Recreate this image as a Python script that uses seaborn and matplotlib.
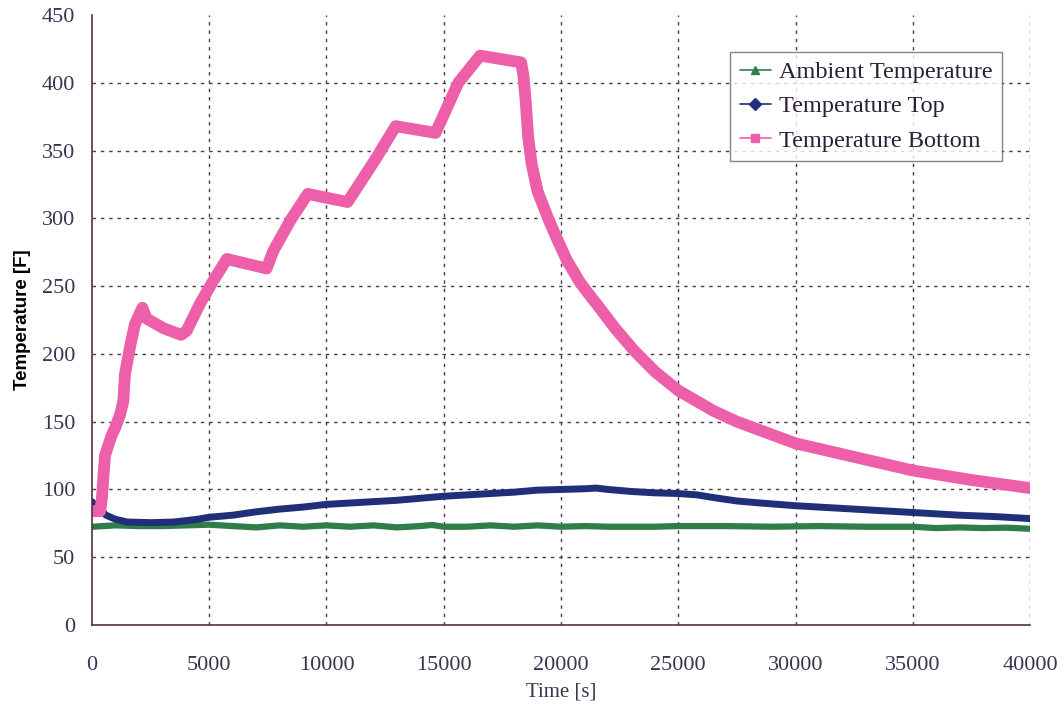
import pandas as pd
import seaborn as sns
import matplotlib.pyplot as plt
from matplotlib.lines import Line2D

# Valores (tempo em s, temperatura em F)
t_amb = [0, 1000, 2000, 3000, 4000, 5000, 6000, 7000, 8000, 9000, 10000, 11000,
         12000, 13000, 14000, 14500, 15000, 16000, 17000, 18000, 19000, 20000,
         21000, 22000, 23000, 24000, 25000, 27000, 29000, 31000, 33000, 35000,
         36000, 37000, 38000, 39000, 40000]
temp_amb = [72.5, 73.5, 73, 73, 73.5, 74, 73, 72, 73.5, 72.5, 73.5, 72.5,
            73.5, 72, 73, 73.8, 72.5, 72.5, 73.5, 72.5, 73.5, 72.5,
            73, 72.5, 72.5, 72.5, 73, 73, 72.5, 73, 72.5, 72.5,
            71.5, 72, 71.5, 71.8, 71]

t_top = [0, 300, 600, 1000, 1500, 2500, 3500, 4500, 5000, 6000, 7000, 8000,
         9000, 10000, 11000, 12000, 13000, 14000, 15000, 16000, 17000, 18000,
         19000, 20000, 21000, 21500, 22000, 23000, 24000, 25000, 25800, 26500,
         27500, 28500, 30000, 32000, 33000, 35000, 37000, 38500, 40000]
temp_top = [91, 86, 81, 78, 76, 75.5, 76, 78, 79.5, 81, 83.5, 85.5,
            87, 89, 90, 91, 92, 93.5, 95, 96, 97, 98,
            99.5, 100, 100.5, 101, 100, 98.5, 97.5, 97, 96, 94,
            91.5, 90, 88, 86, 85, 83, 81, 80, 78.5]

t_bot = [0, 350, 420, 554, 839, 980, 1194, 1336, 1407, 1620, 1833, 2150,
         2332, 3040, 3800, 4037, 4606, 5175, 5750, 7450, 7733, 8443, 9200,
         10900, 12068, 12950, 14650, 15620, 16550, 18300, 18400, 18500, 18600,
         18750, 19000, 19450, 19800, 20250, 20800, 21100, 21600, 22300, 23085,
         24000, 25000, 26500, 27500, 30000, 32500, 35000, 37500, 40000]
temp_bot = [84, 84, 93, 125, 140, 145, 155, 165, 185, 205, 222, 234,
            226, 219, 214, 217, 237, 254, 270, 263, 276, 298, 318,
            312, 343, 368, 363, 400, 420, 415, 405, 385, 360,
            340, 320, 300, 286, 269, 253, 246, 235, 219, 203,
            187, 173, 158, 150, 134, 124, 114, 107, 101]

series = ['Ambient Temperature', 'Temperature Top', 'Temperature Bottom']
cores = ['#2f7d4b', '#1f2f78', '#ee5fa9']
marcadores = ['^', 'D', 's']
larguras = [4.5, 5, 8.5]

df = pd.concat([
    pd.DataFrame({'Time': t_amb, 'Temp': temp_amb, 'Serie': series[0]}),
    pd.DataFrame({'Time': t_top, 'Temp': temp_top, 'Serie': series[1]}),
    pd.DataFrame({'Time': t_bot, 'Temp': temp_bot, 'Serie': series[2]}),
])

sns.set_style('white')
plt.rcParams['font.family'] = ['Liberation Serif', 'DejaVu Serif']

fig = plt.figure(figsize=(10.62, 7.13), dpi=100)
ax = fig.add_axes([0.0866, 0.1234, 0.8833, 0.8556])

for nome, cor, lw in zip(series, cores, larguras):
    sns.lineplot(data=df[df['Serie'] == nome], x='Time', y='Temp', color=cor,
                 linewidth=lw, ax=ax, legend=False, solid_joinstyle='round')

ax.set_xlim(0, 40000)
ax.set_ylim(0, 450)
ax.set_xticks(range(0, 40001, 5000))
ax.set_yticks(range(0, 451, 50))

cor_texto = '#3e3350'
ax.tick_params(axis='both', labelsize=16, colors='#4a2f48', labelcolor=cor_texto,
               direction='inout', length=8, width=1)
ax.tick_params(axis='x', pad=18)
ax.tick_params(axis='y', pad=8)

ax.grid(True, color='#4a3a4a', linestyle=(0, (2.5, 3.5)), linewidth=1)
ax.yaxis.get_gridlines()[0].set_visible(False)
ax.yaxis.get_gridlines()[-1].set_visible(False)
ax.xaxis.get_gridlines()[0].set_visible(False)

for lado in ['top', 'right']:
    ax.spines[lado].set_visible(False)
for lado in ['left', 'bottom']:
    ax.spines[lado].set_color('#50304a')
    ax.spines[lado].set_linewidth(1.2)

ax.set_xlabel('Time [s]', fontsize=15, color=cor_texto, labelpad=6)
ax.set_ylabel('Temperature [F]', fontsize=13.5, fontweight='bold', color='black',
              family=['Liberation Sans Narrow', 'Liberation Sans', 'DejaVu Sans'],
              labelpad=8)

handles = [Line2D([0], [0], color=c, marker=m, markersize=6, linewidth=1.2)
           for c, m in zip(cores, marcadores)]
leg = ax.legend(handles, series, loc='upper right', bbox_to_anchor=(0.97, 0.94),
                borderaxespad=0, fontsize=17.5, frameon=True, fancybox=False,
                handlelength=1.3, borderpad=0.4, labelspacing=0.5,
                handletextpad=0.3)
leg.get_frame().set_edgecolor('#6a6070')
leg.get_frame().set_linewidth(1)
for txt in leg.get_texts():
    txt.set_color('#2a2035')

plt.savefig('out.png', dpi=100)
